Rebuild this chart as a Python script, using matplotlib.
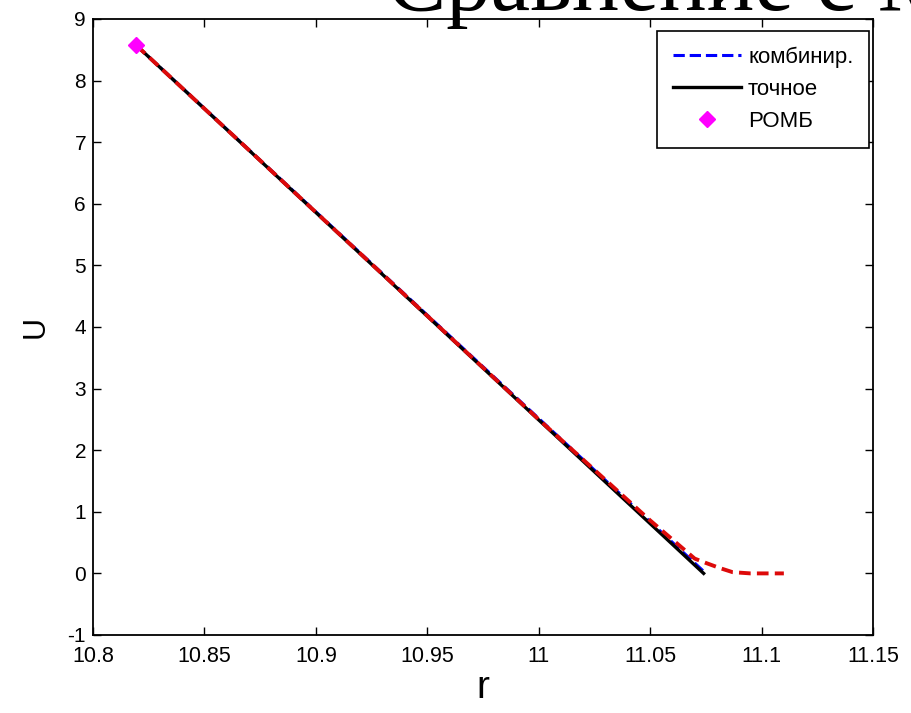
import numpy as np
import matplotlib.pyplot as plt

# ---- data ----
r_comb = [10.8195, 11.075]
U_comb = [8.57, 0.0]

r_exact = [10.8195, 11.074]
U_exact = [8.57, 0.0]

r_red = [10.8195, 11.0, 11.05, 11.07, 11.075, 11.081, 11.087, 11.095, 11.11]
U_red = [8.57, 2.50, 0.86, 0.24, 0.17, 0.09, 0.02, 0.0, 0.0]

r_romb = [10.8195]
U_romb = [8.57]

xticks = [10.8, 10.85, 10.9, 10.95, 11.0, 11.05, 11.1, 11.15]
xticklabels = ['10.8', '10.85', '10.9', '10.95', '11', '11.05', '11.1', '11.15']
yticks = list(range(-1, 10))

plt.rcParams['font.family'] = ['Liberation Sans', 'DejaVu Sans']
plt.rcParams['axes.unicode_minus'] = False

fig = plt.figure(figsize=(9.12, 7.13), dpi=100)
W, H = 912, 713
ax = fig.add_axes([93 / W, 78 / H, (873 - 93) / W, (635 - 19) / H])

ax.plot(r_comb, U_comb, '--', color='#0000ff', lw=2.2, label='комбинир.')
ax.plot(r_exact, U_exact, '-', color='black', lw=2.4, label='точное')
ax.plot(r_romb, U_romb, 'D', color='#ff00ff', ms=8, label='РОМБ', zorder=5)
ax.plot(r_red, U_red, '--', color='#dd0a0a', lw=2.8, dashes=(3, 1.6))

ax.set_xlim(10.8, 11.15)
ax.set_ylim(-1, 9)
ax.set_xticks(xticks)
ax.set_xticklabels(xticklabels)
ax.set_yticks(yticks)
ax.tick_params(direction='in', length=6, width=1, top=True, right=True,
               labelsize=15, colors='black')
ax.tick_params(axis='y', pad=5)
ax.tick_params(axis='x', pad=8)
for lab in ax.get_xticklabels():
    lab.set_fontsize(15.5)
for s in ax.spines.values():
    s.set_linewidth(1.3)

ax.set_xlabel('r', fontsize=28, labelpad=2)
ax.set_ylabel('U', fontsize=22, labelpad=12)

leg = ax.legend(loc='upper right', bbox_to_anchor=(869 / W, 1 - 31 / H),
                bbox_transform=fig.transFigure, fontsize=16, handlelength=3.1,
                handletextpad=0.3, labelspacing=0.5, borderpad=0.7,
                fancybox=False, framealpha=1, edgecolor='black', borderaxespad=0)
leg.get_frame().set_linewidth(1.2)

# title, cropped at the top of the picture
fig.text(387 / W, 1 - 10 / H, 'Сравнение с М', family='Liberation Serif',
         fontsize=64, va='baseline', ha='left')

fig.savefig('out.png', dpi=100)
